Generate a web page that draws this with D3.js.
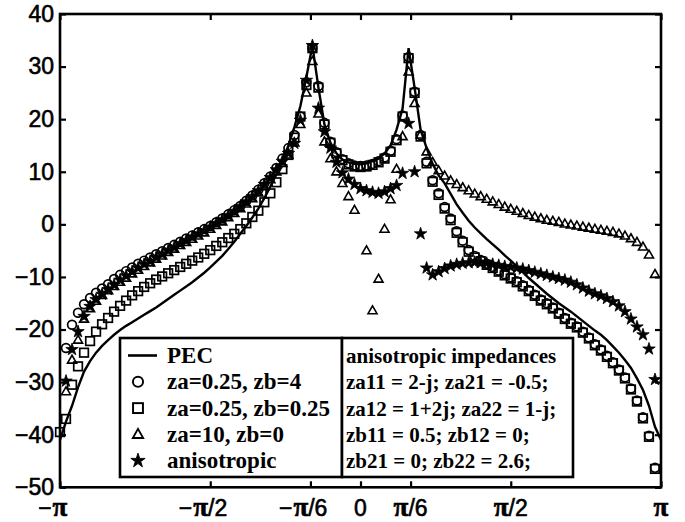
<!DOCTYPE html>
<html>
<head>
<meta charset="utf-8">
<script src="https://cdn.jsdelivr.net/npm/d3@7"></script>
<style>
  body { margin: 0; background: #fff; }
  svg { display: block; }
</style>
</head>
<body>
<div id="chart"></div>
<script>
// angle of observation, degrees (-pi .. pi)
var angles = [-180,-176.4,-172.8,-169.2,-165.6,-162,-158.4,-154.8,-151.2,-147.6,
  -144,-140.4,-136.8,-133.2,-129.6,-126,-122.4,-118.8,-115.2,-111.6,
  -108,-104.4,-100.8,-97.2,-93.6,-90,-86.4,-82.8,-79.2,-75.6,
  -72,-68.4,-64.8,-61.2,-57.6,-54,-50.4,-46.8,-43.2,-39.6,
  -36,-32.4,-28.8,-25.2,-21.6,-18,-14.4,-10.8,-7.2,-3.6,
  0,3.6,7.2,10.8,14.4,18,21.6,25.2,28.8,32.4,
  36,39.6,43.2,46.8,50.4,54,57.6,61.2,64.8,68.4,
  72,75.6,79.2,82.8,86.4,90,93.6,97.2,100.8,104.4,
  108,111.6,115.2,118.8,122.4,126,129.6,133.2,136.8,140.4,
  144,147.6,151.2,154.8,158.4,162,165.6,169.2,172.8,176.4,
  180];

var pec = [-41,-37.5,-34.5,-31,-28,-26,-24.4,-23.1,-22.0,-21.0,
  -20.1,-19.3,-18.6,-17.9,-17.2,-16.5,-15.8,-15.0,-14.2,-13.4,
  -12.6,-11.8,-11.0,-10.1,-9.2,-8.2,-7.1,-6.0,-4.7,-3.3,
  -1.8,-0.3,1.3,3.0,5.0,7.2,9.5,12.0,15.0,18.5,
  22.5,28,34,26,19,15.5,13.5,12.3,11.8,11.5,
  11.4,11.6,12.0,12.5,13.5,15,18,22,33.5,26,
  18,14.5,11.5,9.3,7.8,5.8,3.8,2.2,0.7,-0.6,
  -1.7,-2.8,-3.8,-4.8,-5.9,-6.9,-8.0,-9.1,-10.2,-11.2,
  -12.2,-13.2,-14.1,-15.0,-15.8,-16.6,-17.5,-18.4,-19.3,-20.2,
  -21.0,-22.0,-23.2,-24.4,-25.8,-27.3,-29.3,-31.5,-34.5,-38.5,
  -41];

var circ = [null,-23.5,-19.1,-16.8,-15.2,-14.0,-13.0,-12.2,-11.4,-10.4,
  -9.6,-8.9,-8.2,-7.5,-6.9,-6.3,-5.7,-5.1,-4.5,-3.9,
  -3.3,-2.7,-2.1,-1.5,-0.9,-0.3,0.4,1.1,1.9,2.7,
  3.5,4.5,5.5,6.6,7.8,9.1,10.7,12.5,14.5,17.0,
  20.5,27,33.5,26.3,19.3,15.7,13.7,12.4,11.6,11.2,
  11.1,11.2,11.5,12.0,12.7,14.0,16.2,20.7,31.8,25.2,
  17.0,11.9,8.4,5.9,3.3,1.1,-1.3,-3.1,-4.9,-6.0,
  -6.8,-7.5,-8.1,-8.8,-9.5,-10.1,-10.8,-11.6,-12.5,-13.4,
  -14.3,-15.0,-15.8,-16.8,-17.8,-18.7,-19.4,-20.4,-21.5,-22.8,
  -23.8,-25.0,-26.2,-27.6,-29.1,-31.2,-33.5,-36.7,-40.2,-46.3,
  null];

var sq = [-39.5,-37,-30.5,-27,-24.4,-22.2,-20.4,-19.0,-17.8,-16.6,
  -15.5,-14.5,-13.5,-12.7,-11.9,-11.2,-10.5,-9.9,-9.3,-8.7,
  -8.1,-7.5,-6.9,-6.3,-5.6,-4.9,-4.1,-3.4,-2.6,-1.8,
  -0.9,0.2,1.4,2.6,4.2,5.9,8.0,10.5,13.2,16.5,
  20.5,26.5,33.5,26,19,15.5,13.5,12.2,11.4,11.0,
  10.9,11.0,11.3,11.8,12.5,13.8,16.0,20.5,31.6,25,
  16.7,11.6,8.1,5.6,3.0,0.8,-1.6,-3.4,-5.2,-6.3,
  -7.0,-7.7,-8.3,-9.0,-9.7,-10.3,-11.0,-11.8,-12.7,-13.6,
  -14.5,-15.2,-16.0,-17.0,-18.0,-18.9,-19.6,-20.6,-21.7,-23.0,
  -24.0,-25.2,-26.4,-27.8,-29.3,-31.4,-33.7,-36.9,-40.4,-46.5,
  null];

var tri = [null,-31.8,-25.8,-22.0,-18.0,-16.0,-14.6,-13.5,-12.6,-11.8,
  -11.0,-10.2,-9.4,-8.7,-8.0,-7.3,-6.6,-6.0,-5.3,-4.7,
  -4.0,-3.4,-2.8,-2.2,-1.6,-0.9,-0.2,0.5,1.3,2.1,
  3.0,3.9,4.9,6.0,7.2,8.5,10.0,11.6,13.2,15.5,
  19,25,31,21,15.7,12.5,10.0,7.8,5.3,2.7,
  -30,-5.0,-16.4,-10.4,-0.9,4.7,10.5,16.7,29,23,
  17,13.8,11.8,10.2,9.2,8.3,7.6,7.0,6.4,5.8,
  5.3,4.8,4.3,3.8,3.3,2.9,2.5,2.1,1.7,1.4,
  1.1,0.8,0.6,0.4,0.1,-0.1,-0.3,-0.5,-0.7,-0.9,
  -1.1,-1.3,-1.5,-1.8,-2.2,-2.7,-3.4,-4.3,-5.8,-9.5,
  null];

var star = [null,-29.8,-23.8,-20.4,-17.5,-15.6,-14.3,-13.3,-12.4,-11.5,
  -10.6,-9.8,-9.0,-8.3,-7.6,-7.0,-6.3,-5.7,-5.0,-4.4,
  -3.7,-3.1,-2.4,-1.8,-1.2,-0.5,0.2,0.9,1.7,2.5,
  3.4,4.3,5.3,6.4,7.6,8.9,10.4,12.0,13.5,15.4,
  19.8,27.4,34,22.1,17.6,14.5,11.8,9.8,8.6,7.6,
  6.8,6.4,6.1,5.9,6.2,6.8,7.4,9.7,19.2,10.0,
  -1.8,-8.3,-9.6,-9.0,-8.4,-7.9,-7.6,-7.4,-7.3,-7.2,
  -7.3,-7.4,-7.6,-7.8,-8.0,-8.1,-8.3,-8.5,-8.8,-9.1,
  -9.4,-9.7,-10.0,-10.3,-10.6,-11.0,-11.5,-12.1,-12.7,-13.2,
  -13.6,-14.1,-14.7,-15.5,-16.6,-18.0,-19.5,-21.0,-23.7,-29.5,
  null];

var xTicks = [-180, -90, -30, 0, 30, 90, 180];
var xTickLabels = ["-π", "-π/2", "-π/6", "0", "π/6", "π/2", "π"];
var yTicks = [-50, -40, -30, -20, -10, 0, 10, 20, 30, 40];

var legendLabels = ["PEC", "za=0.25, zb=4", "za=0.25, zb=0.25", "za=10, zb=0", "anisotropic"];
var noteLines = ["anisotropic impedances", "za11 = 2-j; za21 = -0.5;", "za12 = 1+2j; za22 = 1-j;",
  "zb11 = 0.5; zb12 = 0;", "zb21 = 0; zb22 = 2.6;"];

function main() {
  var W = 685, H = 522;
  var plotLeft = 60, plotRight = 661, plotTop = 14, plotBottom = 487.3;
  var sans = "Liberation Sans, Arial, sans-serif";
  var serif = "Liberation Serif, 'Times New Roman', serif";

  var svg = d3.select("#chart").append("svg")
    .attr("width", W).attr("height", H);

  var x = d3.scaleLinear().domain([-180, 180]).range([plotLeft, plotRight]);
  var y = d3.scaleLinear().domain([-50, 40]).range([plotBottom, plotTop]);

  // marker shapes (MATLAB style, open symbols; star filled)
  function drawCircle(sel) {
    sel.append("circle").attr("r", 4.4)
      .attr("fill", "none").attr("stroke", "#000").attr("stroke-width", 1.7);
  }
  function drawSquare(sel) {
    sel.append("rect").attr("x", -4.3).attr("y", -4.3).attr("width", 8.6).attr("height", 8.6)
      .attr("fill", "none").attr("stroke", "#000").attr("stroke-width", 1.7);
  }
  function drawTriangle(sel) {
    sel.append("path").attr("d", "M0,-4.8L4.5,3.1L-4.5,3.1Z")
      .attr("fill", "none").attr("stroke", "#000").attr("stroke-width", 1.6);
  }
  var starPath = d3.symbol().type(d3.symbolStar).size(48)();
  function drawStar(sel) {
    sel.append("path").attr("d", starPath).attr("fill", "#000")
      .attr("stroke", "#000").attr("stroke-width", 0.8);
  }

  function pts(vals) {
    return angles.map(function(a, i) { return {a: a, v: vals[i]}; })
      .filter(function(d) { return d.v !== null; });
  }

  // PEC solid curve
  var line = d3.line().x(function(d) { return x(d.a); }).y(function(d) { return y(d.v); });
  svg.append("path").datum(pts(pec))
    .attr("d", line).attr("fill", "none").attr("stroke", "#000").attr("stroke-width", 2.4);

  function markers(vals, draw) {
    var g = svg.append("g");
    g.selectAll("g").data(pts(vals)).enter().append("g")
      .attr("transform", function(d) { return "translate(" + x(d.a) + "," + y(d.v) + ")"; })
      .each(function() { draw(d3.select(this)); });
  }
  markers(circ, drawCircle);
  markers(sq, drawSquare);
  markers(tri, drawTriangle);
  markers(star, drawStar);

  // axes box with inward ticks on all four sides
  function thick(g) { g.select(".domain").remove(); g.selectAll("line").attr("stroke-width", 2.2); }
  svg.append("g").attr("transform", "translate(0," + plotBottom + ")")
    .call(d3.axisBottom(x).tickValues(xTicks).tickSize(-6).tickFormat(""))
    .call(thick);
  svg.append("g").attr("transform", "translate(0," + plotTop + ")")
    .call(d3.axisTop(x).tickValues(xTicks).tickSize(-6).tickFormat(""))
    .call(thick);
  svg.append("g").attr("transform", "translate(" + plotLeft + ",0)")
    .call(d3.axisLeft(y).tickValues(yTicks).tickSize(-6).tickPadding(6)
      .tickFormat(function(d) { return d < 0 ? "\u2212" + (-d) : d; }))
    .call(thick)
    .call(function(g) {
      g.selectAll("text").attr("font-family", sans).attr("font-size", 23)
        .attr("fill", "#000").attr("stroke", "#000").attr("stroke-width", 0.6);
    });
  svg.append("g").attr("transform", "translate(" + plotRight + ",0)")
    .call(d3.axisRight(y).tickValues(yTicks).tickSize(-6).tickFormat(""))
    .call(thick);

  svg.append("rect").attr("x", plotLeft).attr("y", plotTop)
    .attr("width", plotRight - plotLeft).attr("height", plotBottom - plotTop)
    .attr("fill", "none").attr("stroke", "#000").attr("stroke-width", 2.6);

  // x tick labels: pi in serif, the rest sans; a leading minus hangs left of the centred part
  var xl = svg.append("g");
  xTicks.forEach(function(v, i) {
    var label = xTickLabels[i];
    var neg = label.charAt(0) === "-";
    var body = neg ? label.slice(1) : label;
    var g = xl.append("g").attr("transform", "translate(" + x(v) + ",0)");
    var t = g.append("text").attr("text-anchor", "middle").attr("y", 516)
      .attr("stroke", "#000").attr("stroke-width", 0.6);
    body.split(/(π)/).forEach(function(part) {
      if (!part) return;
      var isPi = part === "π";
      t.append("tspan")
        .attr("font-family", isPi ? serif : sans)
        .attr("font-weight", isPi ? "bold" : "normal")
        .attr("font-size", isPi ? 27 : 23)
        .text(part);
    });
    if (neg) {
      var w = t.node().getComputedTextLength();
      g.append("text").attr("x", -w / 2 - 1).attr("y", 516).attr("text-anchor", "end")
        .attr("font-family", sans).attr("font-size", 23)
        .attr("stroke", "#000").attr("stroke-width", 0.6)
        .text("\u2212");
    }
  });

  // legends
  var boxTop = 338, boxBottom = 477, rowY0 = 355.5, rowStep = 26.3;
  var lg = svg.append("g");
  lg.append("rect").attr("x", 120).attr("y", boxTop).attr("width", 222).attr("height", boxBottom - boxTop)
    .attr("fill", "#fff").attr("stroke", "#000").attr("stroke-width", 2.6);
  lg.append("rect").attr("x", 342).attr("y", boxTop).attr("width", 231).attr("height", boxBottom - boxTop)
    .attr("fill", "#fff").attr("stroke", "#000").attr("stroke-width", 2.6);

  var draws = [null, drawCircle, drawSquare, drawTriangle, drawStar];
  legendLabels.forEach(function(lab, i) {
    var cy = rowY0 + i * rowStep;
    if (i === 0) {
      lg.append("line").attr("x1", 128).attr("x2", 157).attr("y1", cy).attr("y2", cy)
        .attr("stroke", "#000").attr("stroke-width", 2.6);
    } else {
      draws[i](lg.append("g").attr("transform", "translate(138," + cy + ") scale(1.15)"));
    }
    lg.append("text").attr("x", 167).attr("y", cy + 7.5)
      .attr("font-family", serif).attr("font-weight", "bold")
      .attr("font-size", 23).text(lab);
  });
  noteLines.forEach(function(s, i) {
    lg.append("text").attr("x", 346).attr("y", rowY0 + i * rowStep + 7.5)
      .attr("font-family", serif).attr("font-weight", "bold")
      .attr("font-size", 21).text(s);
  });
}

main();
</script>
</body>
</html>
